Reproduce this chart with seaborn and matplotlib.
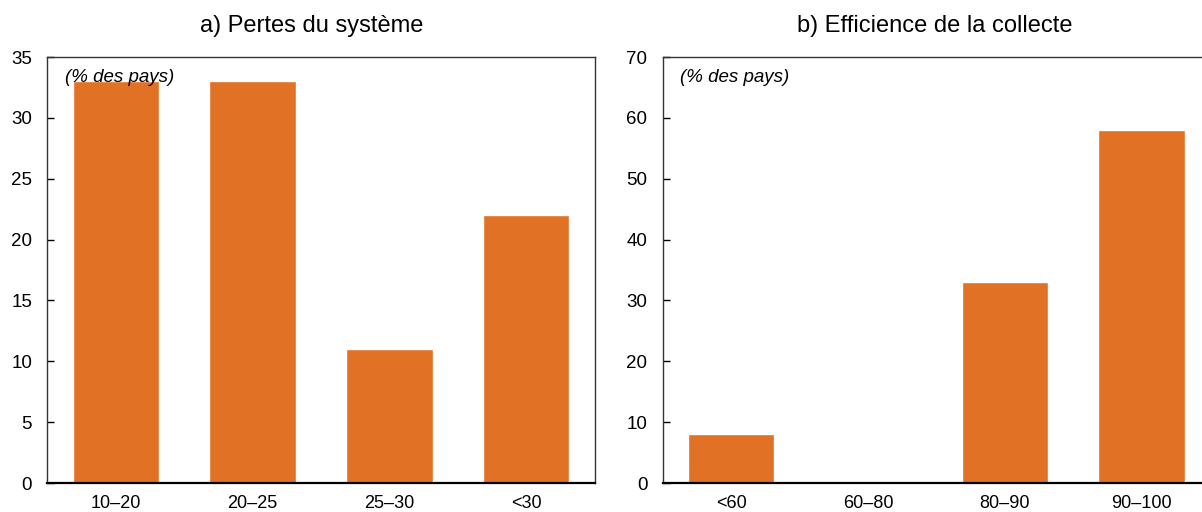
import matplotlib
matplotlib.use("Agg")
import matplotlib.pyplot as plt
import seaborn as sns
import pandas as pd
from matplotlib.ticker import FixedLocator, MultipleLocator

# panel a) system losses
losses_cats = ["10–20", "20–25", "25–30", "<30"]
losses_vals = [33, 33, 11, 22]

# panel b) collection efficiency
collect_cats = ["<60", "60–80", "80–90", "90–100"]
collect_vals = [8, 0, 33, 58]

BAR_COLOR = "#E17125"

sns.set_style("white")
plt.rcParams["font.family"] = ["Liberation Sans", "DejaVu Sans"]
plt.rcParams["text.color"] = "black"
plt.rcParams["xtick.color"] = "black"
plt.rcParams["ytick.color"] = "black"

W, H = 1202, 512
fig = plt.figure(figsize=(W / 100, H / 100), dpi=100)


def px_axes(x0, x1, y0, y1):
    # pixel box (from top-left) -> figure fraction
    return fig.add_axes([x0 / W, 1 - y1 / H, (x1 - x0) / W, (y1 - y0) / H])


def bar_panel(ax, cats, vals, ymax, ystep, title, title_x):
    df = pd.DataFrame({"cat": cats, "val": vals})
    sns.barplot(data=df, x="cat", y="val", order=cats, color=BAR_COLOR,
                width=0.63, saturation=1, ax=ax)
    ax.set_xlim(-0.5, len(cats) - 0.5)
    ax.set_ylim(0, ymax)
    ax.yaxis.set_major_locator(MultipleLocator(ystep))
    ax.set_xlabel("")
    ax.set_ylabel("")

    # labels at centres, tick marks at category boundaries
    ax.xaxis.set_major_locator(FixedLocator([i + 0.5 for i in range(len(cats) - 1)]))
    ax.xaxis.set_minor_locator(FixedLocator(list(range(len(cats)))))
    ax.set_xticklabels([], minor=False)
    ax.set_xticklabels(cats, minor=True)
    ax.tick_params(axis="x", which="major", direction="in", length=5, width=1)
    ax.tick_params(axis="x", which="minor", length=0, pad=9, labelsize=13)
    ax.tick_params(axis="y", direction="in", length=5, width=1, pad=11,
                   labelsize=13.5, left=True)

    for side in ["left", "top", "right"]:
        ax.spines[side].set_color("#333333")
        ax.spines[side].set_linewidth(1)
    ax.spines["bottom"].set_color("black")
    ax.spines["bottom"].set_linewidth(1.6)

    ax.text(0.032, 0.971, "(% des pays)", transform=ax.transAxes, ha="left", va="top",
            fontsize=13.5, style="italic")
    fig.text(title_x / W, 1 - 26 / H, title, ha="center", va="center", fontsize=17)


ax1 = px_axes(47.3, 594.7, 57, 483)
bar_panel(ax1, losses_cats, losses_vals, 35, 5, "a) Pertes du système", 312)

ax2 = px_axes(662.7, 1210, 57, 483)
bar_panel(ax2, collect_cats, collect_vals, 70, 10, "b) Efficience de la collecte", 935)

fig.savefig("out.png", dpi=100)
